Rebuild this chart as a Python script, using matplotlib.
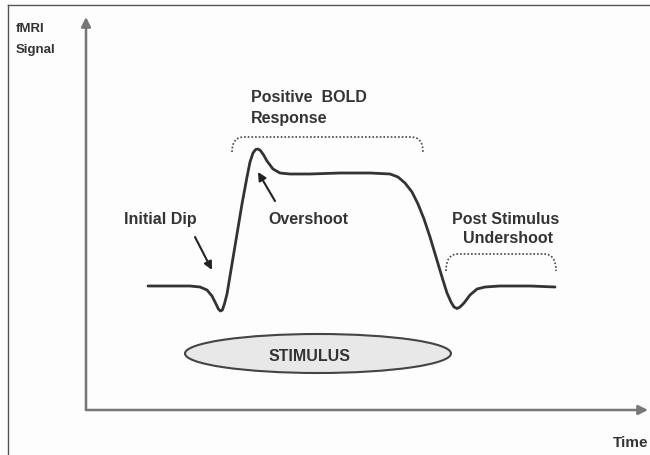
import matplotlib
matplotlib.use("Agg")
import matplotlib.pyplot as plt
from matplotlib.patches import Ellipse, PathPatch
from matplotlib.path import Path

plt.rcParams['font.family'] = ['Liberation Sans', 'DejaVu Sans']

# BOLD response curve (time, signal)
time = [3.10, 4.20, 5.20, 5.70, 6.05, 6.30, 6.50, 6.62, 6.72, 6.82, 6.92, 7.05,
        7.30, 7.55, 7.80, 8.05, 8.20, 8.35, 8.48, 8.60, 8.72, 8.88, 9.05, 9.35,
        9.70, 10.20, 11.20, 12.70, 14.20, 15.20, 15.60, 15.95, 16.30, 16.60,
        16.90, 17.20, 17.50, 17.80, 18.05, 18.25, 18.40, 18.55, 18.70, 18.90,
        19.20, 19.55, 19.95, 20.70, 22.20, 23.45]
signal = [12.4, 12.4, 12.4, 12.3, 12.0, 11.4, 10.6, 10.1, 9.9, 10.0, 10.6, 11.6,
          14.6, 17.6, 20.6, 23.3, 24.8, 25.7, 26.05, 26.1, 25.95, 25.5, 24.9, 24.1,
          23.7, 23.6, 23.6, 23.7, 23.7, 23.6, 23.3, 22.7, 21.8, 20.6,
          19.1, 17.3, 15.3, 13.3, 11.7, 10.8, 10.3, 10.15, 10.3, 10.7,
          11.5, 12.1, 12.3, 12.4, 12.4, 12.3]

# annotations
labels = ["Positive  BOLD", "Response", "Initial Dip", "Overshoot",
          "Post Stimulus", "Undershoot"]
label_t = [8.25, 8.25, 1.9, 9.1, 18.3, 18.85]
label_s = [31.3, 29.2, 19.1, 19.1, 19.1, 17.2]

arrow_tail = [(9.45, 20.9), (5.45, 17.3)]
arrow_tip = [(8.6, 23.8), (6.3, 14.0)]

# brackets: (t_start, t_end, top level, end level)
brackets = [(7.3, 16.85, 27.3, 25.8), (18.0, 23.5, 15.6, 13.9)]

stim_center = (11.6, 5.65)
stim_size = (13.3, 3.9)
stim_label = "STIMULUS"

fig = plt.figure(figsize=(6.5, 4.56), dpi=100)
fig.patch.set_facecolor('#fdfdfd')
ax = fig.add_axes([86/650, 45/456, 562/650, 393/456])
ax.set_facecolor('none')
ax.set_xlim(0, 28.1)
ax.set_ylim(0, 39.3)
for sp in ax.spines.values():
    sp.set_visible(False)
ax.set_xticks([])
ax.set_yticks([])

axis_col = '#777777'
ax.annotate('', xy=(0, 1), xytext=(0, 0), xycoords='axes fraction',
            arrowprops=dict(arrowstyle='-|>', color=axis_col, lw=1.8,
                            mutation_scale=14, shrinkA=0, shrinkB=0))
ax.annotate('', xy=(1, 0), xytext=(0, 0), xycoords='axes fraction',
            arrowprops=dict(arrowstyle='-|>', color=axis_col, lw=1.8,
                            mutation_scale=14, shrinkA=0, shrinkB=0))

dark = '#333333'
ax.plot(time, signal, color=dark, lw=2.0, solid_capstyle='round',
        solid_joinstyle='round')

for lab, t, s in zip(labels, label_t, label_s):
    ax.text(t, s, lab, fontsize=11.5, fontweight='bold', color=dark,
            ha='left', va='center')

for (t0, s0), (t1, s1) in zip(arrow_tail, arrow_tip):
    ax.annotate('', xy=(t1, s1), xytext=(t0, s0),
                arrowprops=dict(arrowstyle='-|>', color='#222222', lw=1.5,
                                mutation_scale=12, shrinkA=0, shrinkB=0))

for t0, t1, top, end in brackets:
    r = 0.6
    verts = [(t0, end), (t0, top), (t0 + r, top), (t1 - r, top),
             (t1, top), (t1, end)]
    codes = [Path.MOVETO, Path.CURVE3, Path.CURVE3, Path.LINETO,
             Path.CURVE3, Path.CURVE3]
    ax.add_patch(PathPatch(Path(verts, codes), fill=False, edgecolor='#444444',
                           lw=1.2, linestyle=(0, (1, 1.2))))

ax.add_patch(Ellipse(stim_center, stim_size[0], stim_size[1],
                     facecolor='#e8e8e8', edgecolor='#444444', lw=1.5))
ax.text(11.2, 5.4, stim_label, fontsize=11.5, fontweight='bold', color=dark,
        ha='center', va='center')

fig.text(16/650, 1 - 29/456, "fMRI", fontsize=9.5, fontweight='bold',
         color=dark, ha='left', va='center')
fig.text(16/650, 1 - 50/456, "Signal", fontsize=9.5, fontweight='bold',
         color=dark, ha='left', va='center')
fig.text(613/650, 1 - 443/456, "Time", fontsize=11, fontweight='bold',
         color=dark, ha='left', va='center')

# frame
fig.add_artist(plt.Line2D([7.5/650, 7.5/650], [0, 1 - 6/456],
                          transform=fig.transFigure, color='#555555', lw=1))
fig.add_artist(plt.Line2D([7.5/650, 1], [1 - 6/456, 1 - 6/456],
                          transform=fig.transFigure, color='#555555', lw=1))

fig.savefig('out.png', dpi=100, facecolor=fig.get_facecolor())
